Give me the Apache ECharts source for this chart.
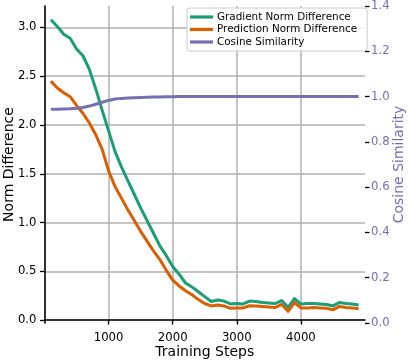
<!DOCTYPE html>
<html>
<head>
<meta charset="utf-8">
<script src="https://cdn.jsdelivr.net/npm/echarts@6/dist/echarts.min.js"></script>
<style>
html,body{margin:0;padding:0;background:#fff;}
#chart{width:409px;height:361px;}
</style>
</head>
<body>
<div id="chart"></div>
<script>
var steps = [100,200,300,400,500,600,700,800,900,1000,1100,1200,1300,1400,1500,1600,1700,1800,1900,2000,2100,2200,2300,2400,2500,2600,2700,2800,2900,3000,3100,3200,3300,3400,3500,3600,3700,3800,3900,4000,4100,4200,4300,4400,4500,4600,4700,4800,4900];
var gradNormDiff = [3.08,3.01,2.93,2.89,2.78,2.71,2.57,2.37,2.15,1.94,1.73,1.57,1.43,1.29,1.15,1.02,0.89,0.76,0.66,0.55,0.47,0.38,0.34,0.29,0.24,0.19,0.205,0.195,0.165,0.17,0.165,0.195,0.19,0.18,0.175,0.17,0.20,0.13,0.22,0.165,0.17,0.17,0.165,0.16,0.145,0.18,0.17,0.165,0.155];
var predNormDiff = [2.45,2.38,2.33,2.29,2.20,2.12,2.02,1.90,1.75,1.53,1.37,1.25,1.13,1.02,0.91,0.81,0.71,0.62,0.51,0.41,0.35,0.30,0.26,0.21,0.17,0.145,0.155,0.145,0.12,0.125,0.125,0.147,0.144,0.14,0.135,0.13,0.16,0.09,0.18,0.125,0.125,0.13,0.125,0.12,0.105,0.14,0.13,0.125,0.115];
var cosineSim = [0.944,0.944,0.945,0.946,0.948,0.952,0.958,0.966,0.975,0.983,0.989,0.992,0.994,0.995,0.996,0.997,0.998,0.998,0.999,0.999,1.0,1.0,1.0,1.0,1.0,1.0,1.0,1.0,1.0,1.0,1.0,1.0,1.0,1.0,1.0,1.0,1.0,1.0,1.0,1.0,1.0,1.0,1.0,1.0,1.0,1.0,1.0,1.0,1.0];
var xTicks = [1000,2000,3000,4000];
var leftTicks = [0,0.5,1.0,1.5,2.0,2.5,3.0];
var rightTicks = [0,0.2,0.4,0.6,0.8,1.0,1.2,1.4];
var names = ['Gradient Norm Difference','Prediction Norm Difference','Cosine Similarity'];
var colors = ['#1b9e77','#d95f02','#7570b3'];

function pairs(vals){ return steps.map(function(s,i){ return [s, vals[i]]; }); }

var font = 'DejaVu Sans';
var chart = echarts.init(document.getElementById('chart'), null, {renderer:'canvas'});
chart.setOption({
  animation:false,
  backgroundColor:'#fff',
  textStyle:{fontFamily:font},
  grid:{left:44.5, right:44, top:6, bottom:38, containLabel:false, outerBoundsMode:'none'},
  legend:{
    orient:'vertical', left:187, top:8, align:'left',
    icon:'rect', itemWidth:23, itemHeight:3.2, itemGap:0.5,
    padding:[3,10,3,3],
    backgroundColor:'rgba(255,255,255,0.85)', borderColor:'#cccccc', borderWidth:1, borderRadius:3,
    textStyle:{fontFamily:font, fontSize:10.4, color:'#000', lineHeight:12, padding:[0,0,0,-1]},
    data:names
  },
  xAxis:{
    type:'value', min:0, max:5000,
    name:'Training Steps', nameLocation:'middle', nameGap:22, nameMoveOverlap:false,
    nameTextStyle:{fontFamily:font, fontSize:14, color:'#000'},
    axisLine:{show:true, lineStyle:{color:'#000', width:1.6}},
    axisTick:{show:true, length:4.5, lineStyle:{color:'#000', width:1.3}, customValues:xTicks},
    axisLabel:{fontFamily:font, fontSize:11.7, color:'#000', margin:9, customValues:xTicks,
      formatter:function(v){ return String(v); }},
    splitLine:{show:true, lineStyle:{color:'#b0b0b0', width:1.5}}
  },
  yAxis:[{
    type:'value', min:-0.03, max:3.22, position:'left',
    name:'Norm Difference', nameLocation:'middle', nameGap:28, nameRotate:90, nameMoveOverlap:false,
    nameTextStyle:{fontFamily:font, fontSize:14, color:'#000'},
    axisLine:{show:true, lineStyle:{color:'#000', width:1.6}},
    axisTick:{show:true, length:4.5, lineStyle:{color:'#000', width:1.3}, customValues:leftTicks},
    axisLabel:{fontFamily:font, fontSize:11.7, color:'#000', margin:8, customValues:leftTicks,
      formatter:function(v){ return v.toFixed(1); }},
    splitLine:{show:true, lineStyle:{color:'#b0b0b0', width:1.5}}
  },{
    type:'value', min:0, max:1.4, interval:0.2, position:'right',
    name:'Cosine Similarity', nameLocation:'middle', nameGap:27, nameRotate:90, nameMoveOverlap:false,
    nameTextStyle:{fontFamily:font, fontSize:14, color:'#7570b3'},
    axisLine:{show:false},
    axisTick:{show:true, length:4.5, lineStyle:{color:'#000', width:1.3}},
    axisLabel:{fontFamily:font, fontSize:11.7, color:'#7570b3', margin:6,
      formatter:function(v){ return v.toFixed(1); }},
    splitLine:{show:false}
  }],
  series:[
    {name:names[0], type:'line', yAxisIndex:0, data:pairs(gradNormDiff), symbol:'none', z:2,
      lineStyle:{color:colors[0], width:3, join:'round'}, itemStyle:{color:colors[0]}},
    {name:names[1], type:'line', yAxisIndex:0, data:pairs(predNormDiff), symbol:'none', z:2,
      lineStyle:{color:colors[1], width:3, join:'round'}, itemStyle:{color:colors[1]}},
    {name:names[2], type:'line', yAxisIndex:1, data:pairs(cosineSim), symbol:'none', z:3,
      lineStyle:{color:colors[2], width:3, join:'round'}, itemStyle:{color:colors[2]}}
  ]
});
</script>
</body>
</html>
